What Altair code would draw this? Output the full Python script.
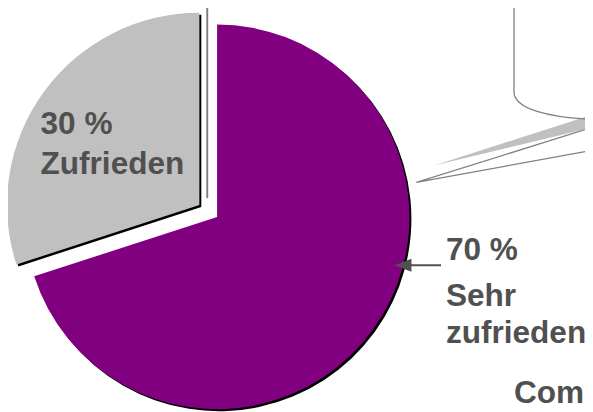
import altair as alt
import pandas as pd

# ---- data ----
categories = ["Sehr zufrieden", "Zufrieden"]
values = [70, 30]
colors = ["#800080", "#c0c0c0"]
extra_lines = [["Sehr", "zufrieden"], ["Zufrieden"]]
footer_text = "Com"

starts = [sum(values[:i]) for i in range(len(values))]
ends = [s + v for s, v in zip(starts, values)]
df = pd.DataFrame({"cat": categories, "value": values, "start": starts, "end": ends})
one = pd.DataFrame({"k": [0]})

theta_scale = alt.Scale(domain=[0, sum(values)], range=[0, 6.283185307179586])
color_scale = alt.Scale(domain=categories, range=colors)

R = 195
CENTER = (212, 209)
EXPLODE = {"Sehr zufrieden": (0, 0), "Zufrieden": (-18, -12)}
SHADOW = 2
TEXT_COLOR = "#505050"
FONT = "Liberation Sans"
FS = 32


def slice_layer(cat, shadow):
    dx, dy = EXPLODE[cat]
    off = SHADOW if shadow else 0
    kw = {"color": "black"} if shadow else {}
    enc = dict(
        theta=alt.Theta("start:Q", scale=theta_scale, stack=None),
        theta2="end:Q",
        x=alt.value(CENTER[0] + dx + off),
        y=alt.value(CENTER[1] + dy + off),
    )
    if not shadow:
        enc["color"] = alt.Color("cat:N", scale=color_scale, legend=None)
    return (
        alt.Chart(df)
        .transform_filter(alt.datum.cat == cat)
        .mark_arc(radius=R, **kw)
        .encode(**enc)
    )


layers = []
for c in categories:
    layers.append(slice_layer(c, True))
for c in categories:
    layers.append(slice_layer(c, False))

# grey separator line next to the exploded slice
layers.append(
    alt.Chart(one).mark_rule(color="#808080", strokeWidth=2).encode(
        x=alt.value(202), y=alt.value(-5), y2=alt.value(190)
    )
)


def path_layer(path, filled, color, sw=1.3):
    if filled:
        m = alt.Chart(one).mark_point(shape=path, size=4, filled=True, fill=color,
                                      strokeWidth=0, opacity=1)
    else:
        m = alt.Chart(one).mark_point(shape=path, size=4, filled=False, stroke=color,
                                      strokeWidth=sw, opacity=1)
    return m.encode(x=alt.value(0), y=alt.value(0))


# callout bubble (upper right) with its shadow wedge
layers.append(path_layer("M590,106 L590,119 L432,157 Z", True, "#c0c0c0"))
layers.append(path_layer(
    "M513,-10 L513,82 C513,100 550,108 590,110 M590,119 L414,174 L590,142",
    False, "#808080"))

# arrow to the 70 % slice
layers.append(
    alt.Chart(one).mark_rule(color=TEXT_COLOR, strokeWidth=2).encode(
        x=alt.value(405), x2=alt.value(439), y=alt.value(258)
    )
)
layers.append(path_layer("M392,258 L409,251.5 L409,264.5 Z", True, TEXT_COLOR))


def text_layer(txt, x, y):
    return alt.Chart(one).mark_text(
        text=txt, align="left", baseline="alphabetic", font=FONT, fontSize=FS,
        fontWeight="bold", color=TEXT_COLOR
    ).encode(x=alt.value(x), y=alt.value(y))


# labels
layers.append(text_layer(f"{values[1]} %", 33, 125))
layers.append(text_layer(extra_lines[1][0], 33, 166))
layers.append(text_layer(f"{values[0]} %", 444, 253))
layers.append(text_layer(extra_lines[0][0], 444, 299))
layers.append(text_layer(extra_lines[0][1], 444, 337))
layers.append(text_layer(footer_text, 513, 398))

chart = (
    alt.layer(*layers)
    .properties(width=585, height=404, padding=0, autosize=alt.AutoSizeParams(type="none"))
    .configure_view(stroke=None)
)

chart.save("out.html", embed_options={"renderer": "svg", "actions": False})
